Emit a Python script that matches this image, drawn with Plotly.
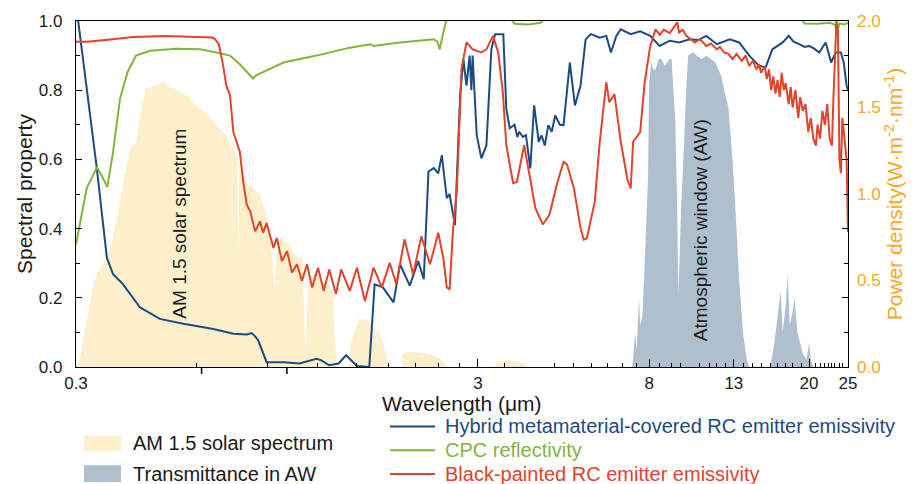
import math
import plotly.graph_objects as go

# ---------------- data ----------------
solar_wl = [0.300, 0.307, 0.319, 0.330, 0.338, 0.350, 0.365, 0.379, 0.393, 0.409, 0.423, 0.435,
            0.447, 0.474, 0.493, 0.523, 0.566, 0.610, 0.645, 0.680, 0.710, 0.739, 0.757, 0.760,
            0.764, 0.797, 0.830, 0.860, 0.894, 0.910, 0.925, 0.935, 0.945, 0.960, 1.000, 1.050,
            1.100, 1.115, 1.125, 1.140, 1.180, 1.260, 1.310, 1.320, 1.340, 1.350, 1.430, 1.440,
            1.520, 1.590, 1.680, 1.740, 1.790, 1.800, 1.940, 1.950, 2.030, 2.240, 2.420, 2.500,
            2.510, 3.300, 3.350, 3.600, 3.900, 4.000]
solar_power = [0.00, 0.05, 0.27, 0.45, 0.54, 0.59, 0.68, 0.86, 1.07, 1.26, 1.30, 1.47,
               1.61, 1.63, 1.65, 1.61, 1.57, 1.49, 1.45, 1.38, 1.34, 1.26, 1.21, 0.60,
               1.18, 1.07, 1.03, 1.00, 0.88, 0.77, 0.61, 0.45, 0.62, 0.75, 0.73, 0.65,
               0.62, 0.10, 0.30, 0.50, 0.54, 0.48, 0.44, 0.19, 0.02, 0.00, 0.00, 0.12,
               0.28, 0.27, 0.21, 0.15, 0.02, 0.00, 0.00, 0.08, 0.09, 0.08, 0.05, 0.01,
               0.00, 0.00, 0.03, 0.04, 0.02, 0.00]

aw_wl = [7.25, 7.30, 7.38, 7.45, 7.55, 7.60, 7.70, 7.80, 7.95, 8.00, 8.10, 8.20, 8.30, 8.45,
         8.60, 8.75, 8.85, 9.00, 9.10, 9.30, 9.40, 9.45, 9.52, 9.60, 9.75, 9.85, 10.0, 10.3,
         10.5, 10.8, 11.1, 11.4, 11.7, 11.9, 12.1, 12.3, 12.6, 12.9, 13.2, 13.4, 13.7, 14.0,
         14.2, 16.0, 16.3, 16.6, 17.0, 17.2, 17.5, 17.7, 17.9, 18.2, 18.4, 18.7, 18.9, 19.3,
         19.7, 20.0, 20.2, 20.5]
aw_trans = [0.00, 0.02, 0.10, 0.05, 0.20, 0.12, 0.15, 0.30, 0.55, 0.82, 0.88, 0.86, 0.86, 0.89,
            0.89, 0.87, 0.88, 0.89, 0.89, 0.70, 0.45, 0.21, 0.30, 0.45, 0.62, 0.75, 0.90, 0.91,
            0.90, 0.89, 0.90, 0.89, 0.88, 0.86, 0.84, 0.80, 0.75, 0.60, 0.40, 0.25, 0.10, 0.02,
            0.00, 0.00, 0.05, 0.12, 0.22, 0.10, 0.18, 0.27, 0.12, 0.16, 0.20, 0.10, 0.08, 0.04,
            0.02, 0.07, 0.02, 0.00]

hybrid_wl = [0.300, 0.338, 0.358, 0.371, 0.393, 0.433, 0.485, 0.555, 0.659, 0.739, 0.800, 0.820,
             0.835, 0.852, 0.894, 0.985, 1.08, 1.19, 1.22, 1.28, 1.35, 1.41, 1.50, 1.61, 1.66,
             1.74, 1.85, 1.92, 2.03, 2.13, 2.20, 2.26, 2.33, 2.39, 2.44, 2.51, 2.55, 2.63,
             2.71, 2.76, 2.81, 2.86, 2.89, 2.91, 2.98, 3.06, 3.15, 3.24, 3.31, 3.47, 3.53,
             3.60, 3.70, 3.76, 3.80, 3.88, 3.95, 4.00, 4.05, 4.14, 4.20, 4.25, 4.32, 4.40,
             4.49, 4.58, 4.67, 4.80, 4.90, 5.08, 5.23, 5.40, 5.56, 5.73, 6.03, 6.26, 6.43,
             6.63, 6.80, 7.20, 7.60, 8.05, 8.50, 9.00, 9.50, 10.1, 10.6, 11.1, 11.8, 12.2,
             12.7, 13.4, 14.2, 15.0, 15.6, 16.2, 17.2, 17.8, 18.3, 18.9, 19.5, 20.0, 20.6,
             21.2, 22.0, 22.7, 23.3, 24.0, 24.4, 24.8, 25.0]
hybrid_emis = [1.05, 0.574, 0.316, 0.268, 0.239, 0.172, 0.139, 0.125, 0.110, 0.096, 0.094, 0.098,
               0.090, 0.077, 0.014, 0.014, 0.010, 0.024, 0.020, 0.005, 0.010, 0.034, 0.003, 0.000, 0.239,
               0.230, 0.187, 0.297, 0.235, 0.306, 0.254, 0.565, 0.575, 0.560, 0.612, 0.488, 0.500, 0.410,
               0.785, 0.890, 0.813, 0.900, 0.800, 0.900, 0.670, 0.603, 0.641, 0.918, 0.962, 0.962, 0.746,
               0.690, 0.700, 0.665, 0.680, 0.665, 0.670, 0.620, 0.574, 0.756, 0.700, 0.651, 0.670, 0.640,
               0.699, 0.680, 0.727, 0.700, 0.699, 0.880, 0.756, 0.813, 0.947, 0.962, 0.952, 0.957, 0.909,
               0.957, 0.976, 0.962, 0.970, 0.957, 0.928, 0.943, 0.938, 0.947, 0.945, 0.957, 0.933, 0.940,
               0.947, 0.938, 0.900, 0.871, 0.866, 0.918, 0.938, 0.957, 0.940, 0.933, 0.925, 0.928, 0.920,
               0.909, 0.938, 0.880, 0.909, 0.909, 0.880, 0.813, 0.800]

cpc_wl = [0.300, 0.319, 0.338, 0.347, 0.359, 0.371, 0.386, 0.403, 0.423, 0.459, 0.533, 0.610,
          0.671, 0.725, 0.767, 0.827, 0.840, 0.875, 0.985, 1.19, 1.44, 1.62, 1.65, 1.92,
          2.33, 2.38, 2.41, 2.45, 2.50, 2.60, 3.60, 3.70, 4.00, 4.30, 4.40, 19.0, 19.5,
          21.0, 22.5, 23.2, 23.5, 23.8, 24.5, 25.0]
cpc_refl = [0.354, 0.517, 0.577, 0.555, 0.520, 0.622, 0.775, 0.852, 0.900, 0.914, 0.920, 0.918,
            0.909, 0.900, 0.875, 0.834, 0.842, 0.852, 0.880, 0.900, 0.923, 0.933, 0.928, 0.938,
            0.947, 0.940, 0.918, 0.957, 1.000, 1.010, 1.010, 0.992, 0.990, 0.995, 1.010, 1.010, 0.993,
            0.992, 0.995, 0.990, 0.970, 0.993, 0.990, 0.995]

black_wl = [0.300, 0.320, 0.360, 0.416, 0.500, 0.600, 0.655, 0.665, 0.680, 0.697, 0.710, 0.725,
            0.739, 0.767, 0.782, 0.798, 0.814, 0.837, 0.861, 0.876, 0.894, 0.930, 0.948, 0.976,
            1.005, 1.034, 1.064, 1.095, 1.127, 1.160, 1.200, 1.240, 1.280, 1.330, 1.370, 1.440,
            1.500, 1.570, 1.650, 1.730, 1.810, 1.880, 1.970, 2.070, 2.170, 2.280, 2.390, 2.460,
            2.510, 2.550, 2.600, 2.660, 2.730, 2.810, 2.910, 3.060, 3.150, 3.270, 3.370, 3.460,
            3.530, 3.670, 3.750, 3.910, 4.050, 4.170, 4.350, 4.520, 4.710, 4.900, 5.000, 5.200,
            5.400, 5.500, 5.600, 5.860, 6.030, 6.260, 6.370, 6.560, 6.800, 7.070, 7.200, 7.300,
            7.600, 7.800, 8.050, 8.300, 8.500, 8.700, 9.000, 9.300, 9.400, 9.500, 9.700, 9.900,
            10.2, 10.4, 10.7, 11.1, 11.4, 11.8, 12.0, 12.3, 12.6, 12.9, 13.2, 13.6, 13.9, 14.2,
            14.5, 14.8, 15.0, 15.2, 15.5, 15.7, 15.9, 16.1, 16.3, 16.5, 16.7, 16.9, 17.1, 17.3,
            17.5, 17.8, 18.0, 18.2, 18.5, 18.8, 19.0, 19.3, 19.6, 19.9, 20.2, 20.5, 20.8, 21.0,
            21.3, 21.6, 21.9, 22.2, 22.5, 22.8, 23.0, 23.2, 23.4, 23.6, 23.8, 24.0, 24.2, 24.5,
            24.8, 25.0]
black_emis = [0.940, 0.940, 0.946, 0.954, 0.957, 0.955, 0.952, 0.948, 0.933, 0.871, 0.813, 0.785,
              0.679, 0.622, 0.536, 0.469, 0.450, 0.392, 0.421, 0.388, 0.416, 0.344, 0.373, 0.306,
              0.335, 0.273, 0.297, 0.249, 0.297, 0.230, 0.287, 0.220, 0.282, 0.211, 0.282, 0.220,
              0.287, 0.191, 0.287, 0.230, 0.301, 0.239, 0.369, 0.268, 0.378, 0.297, 0.388, 0.316,
              0.230, 0.225, 0.392, 0.516, 0.861, 0.938, 0.918, 0.909, 0.918, 0.957, 0.909, 0.794,
              0.641, 0.531, 0.535, 0.641, 0.540, 0.459, 0.412, 0.440, 0.526, 0.593, 0.585, 0.516,
              0.402, 0.368, 0.372, 0.478, 0.651, 0.823, 0.765, 0.789, 0.651, 0.540, 0.516, 0.651,
              0.679, 0.823, 0.928, 0.976, 0.960, 0.975, 0.965, 0.986, 0.996, 0.967, 0.975, 0.957,
              0.945, 0.938, 0.948, 0.928, 0.935, 0.918, 0.925, 0.909, 0.905, 0.890, 0.905, 0.885, 0.900, 0.870,
              0.885, 0.860, 0.875, 0.850, 0.870, 0.832, 0.860, 0.800, 0.840, 0.790, 0.830, 0.780, 0.850, 0.800,
              0.820, 0.760, 0.810, 0.750, 0.800, 0.720, 0.780, 0.740, 0.760, 0.680, 0.720, 0.660, 0.640, 0.700,
              0.660, 0.740, 0.700, 0.760, 0.660, 0.640, 0.780, 0.900, 1.000, 0.970, 0.600, 0.560, 0.720, 0.660,
              0.600, 0.390, 0.350]

x_tick_vals = [0.3, 3, 8, 13, 20, 25]
x_tick_text = ["0.3", "3", "8", "13", "20", "25"]
x_minor_vals = [0.6, 0.9, 1.2, 1.5, 1.8, 2.1, 2.4, 2.7, 3.5, 4.65, 5.2, 5.75, 6.3, 6.85, 7.45,
                8.5, 9.1, 9.6, 10.7, 11.3, 11.8, 12.4, 13.7, 14.5, 15.2, 16.0, 16.7, 17.5, 18.2,
                19.1, 20.7, 21.3, 21.8, 22.3, 22.8, 23.2, 23.8, 24.2]
x_outer_ticks = [0.69, 1.69, 4.13, 10.1]
y_tick_vals = [0, 0.2, 0.4, 0.6, 0.8, 1.0]
y_tick_text = ["0.0", "0.2", "0.4", "0.6", "0.8", "1.0"]
y2_tick_vals = [0, 0.5, 1.0, 1.5, 2.0]
y2_tick_text = ["0.0", "0.5", "1.0", "1.5", "2.0"]

# ---------------- styles ----------------
FONT = "Liberation Sans, Arial, sans-serif"
C_BLUE = "#1C4B80"
C_GREEN = "#82B53A"
C_RED = "#E2432B"
C_ORANGE = "#F8A823"
C_SOLAR = "#FCF0CC"
C_AW = "#AFBFCE"
TXT = "#1a1a1a"

L, R, T, B = 76, 68, 18, 117
W, H = 916, 484
PW, PH = W - L - R, H - T - B


def px_x(px):
    return (px - L) / PW


def px_y(py):
    return (H - B - py) / PH


fig = go.Figure()
fig.add_trace(go.Scatter(x=aw_wl, y=aw_trans, yaxis="y", mode="none", fill="tozeroy",
                         fillcolor=C_AW, name="Transmittance in AW", showlegend=False))
fig.add_trace(go.Scatter(x=solar_wl, y=solar_power, yaxis="y2", mode="none", fill="tozeroy",
                         fillcolor=C_SOLAR, name="AM 1.5 solar spectrum", showlegend=False))
fig.add_trace(go.Scatter(x=hybrid_wl, y=hybrid_emis, yaxis="y3", mode="lines",
                         line=dict(color=C_BLUE, width=2),
                         name="Hybrid metamaterial-covered RC emitter emissivity", showlegend=False))
fig.add_trace(go.Scatter(x=cpc_wl, y=cpc_refl, yaxis="y3", mode="lines",
                         line=dict(color=C_GREEN, width=2),
                         name="CPC reflectivity", showlegend=False))
fig.add_trace(go.Scatter(x=black_wl, y=black_emis, yaxis="y3", mode="lines",
                         line=dict(color=C_RED, width=2),
                         name="Black-painted RC emitter emissivity", showlegend=False))

xrange = [math.log10(0.3), math.log10(25)]

fig.update_layout(
    width=W, height=H,
    margin=dict(l=L, r=R, t=T, b=B, pad=0),
    paper_bgcolor="white", plot_bgcolor="white",
    font=dict(family=FONT, color=TXT, size=17),
    showlegend=False,
    xaxis=dict(type="log", range=xrange, showline=True, linecolor="black", linewidth=1.3,
               mirror=True, ticks="inside", ticklen=8, tickwidth=1.2, tickcolor="black",
               tickmode="array", tickvals=x_tick_vals, ticktext=x_tick_text,
               minor=dict(ticks="inside", ticklen=4, tickwidth=1, tickcolor="black",
                          tickmode="array", tickvals=x_minor_vals),
               showgrid=False, zeroline=False, ticklabelstandoff=0,
               tickfont=dict(size=17, color=TXT, family=FONT)),
    yaxis=dict(range=[0, 1], showline=True, linecolor="black", linewidth=1.3,
               mirror="allticks", ticks="inside", ticklen=6, tickwidth=1.2, tickcolor="black",
               tickmode="array", tickvals=y_tick_vals, ticktext=y_tick_text,
               minor=dict(ticks="inside", ticklen=4, tickwidth=1, tickcolor="black", dtick=0.1),
               showgrid=False, zeroline=False, ticklabelstandoff=9,
               tickfont=dict(size=17, color=TXT, family=FONT),
               title=dict(text="Spectral property", font=dict(size=21, color=TXT, family=FONT),
                          standoff=0)),
    yaxis2=dict(range=[0, 2], overlaying="y", side="right", showline=False, ticks="",
                tickmode="array", tickvals=y2_tick_vals, ticktext=y2_tick_text,
                showgrid=False, zeroline=False, ticklabelstandoff=8,
                tickfont=dict(size=17, color=C_ORANGE, family=FONT),
                title=dict(text="Power density(W\u00b7m<sup>-2</sup>\u00b7nm<sup>-1</sup>)",
                           font=dict(size=21, color=C_ORANGE, family=FONT), standoff=0)),
    yaxis3=dict(range=[0, 1], overlaying="y", visible=False),
)

shapes = []
for v in x_outer_ticks:
    shapes.append(dict(type="line", xref="x", yref="paper", x0=math.log10(v), x1=math.log10(v),
                       y0=0, y1=-7 / PH, line=dict(color="black", width=1.5)))
# legend swatches / line symbols
shapes.append(dict(type="rect", xref="paper", yref="paper", x0=px_x(84), x1=px_x(121),
                   y0=px_y(452), y1=px_y(436), fillcolor=C_SOLAR, line=dict(width=0)))
shapes.append(dict(type="rect", xref="paper", yref="paper", x0=px_x(84), x1=px_x(121),
                   y0=px_y(483), y1=px_y(466), fillcolor=C_AW, line=dict(width=0)))
for col, yy in [(C_BLUE, 427), (C_GREEN, 451), (C_RED, 475)]:
    shapes.append(dict(type="line", xref="paper", yref="paper", x0=px_x(390), x1=px_x(435),
                       y0=px_y(yy), y1=px_y(yy), line=dict(color=col, width=2)))
fig.update_layout(shapes=shapes)

annotations = [
    dict(text="Wavelength (\u03bcm)", xref="paper", yref="paper", x=px_x(462), y=px_y(404),
         xanchor="center", yanchor="middle", showarrow=False, borderpad=0,
         font=dict(size=21, color=TXT, family=FONT)),
    dict(text="AM 1.5 solar spectrum", xref="x", yref="y", x=math.log10(0.544), y=0.414,
         textangle=-90, showarrow=False, font=dict(size=19, color=TXT, family=FONT)),
    dict(text="Atmospheric window (AW)", xref="x", yref="y", x=math.log10(10.7), y=0.395,
         textangle=-90, showarrow=False, font=dict(size=19, color=TXT, family=FONT)),
]
leg_items = [
    ("AM 1.5 solar spectrum", TXT, 131, 444),
    ("Transmittance in AW", TXT, 131, 475),
    ("Hybrid metamaterial-covered RC emitter emissivity", C_BLUE, 443, 427),
    ("CPC reflectivity", C_GREEN, 443, 451),
    ("Black-painted RC emitter emissivity", C_RED, 443, 475),
]
for txt, col, xx, yy in leg_items:
    annotations.append(dict(text=txt, xref="paper", yref="paper", x=px_x(xx), y=px_y(yy),
                            xanchor="left", yanchor="middle", showarrow=False,
                            font=dict(size=20, color=col, family=FONT)))
fig.update_layout(annotations=annotations)

fig.write_html("out.html", config={"displayModeBar": False},
               post_script="document.body.style.margin='0';document.body.style.padding='0';")
